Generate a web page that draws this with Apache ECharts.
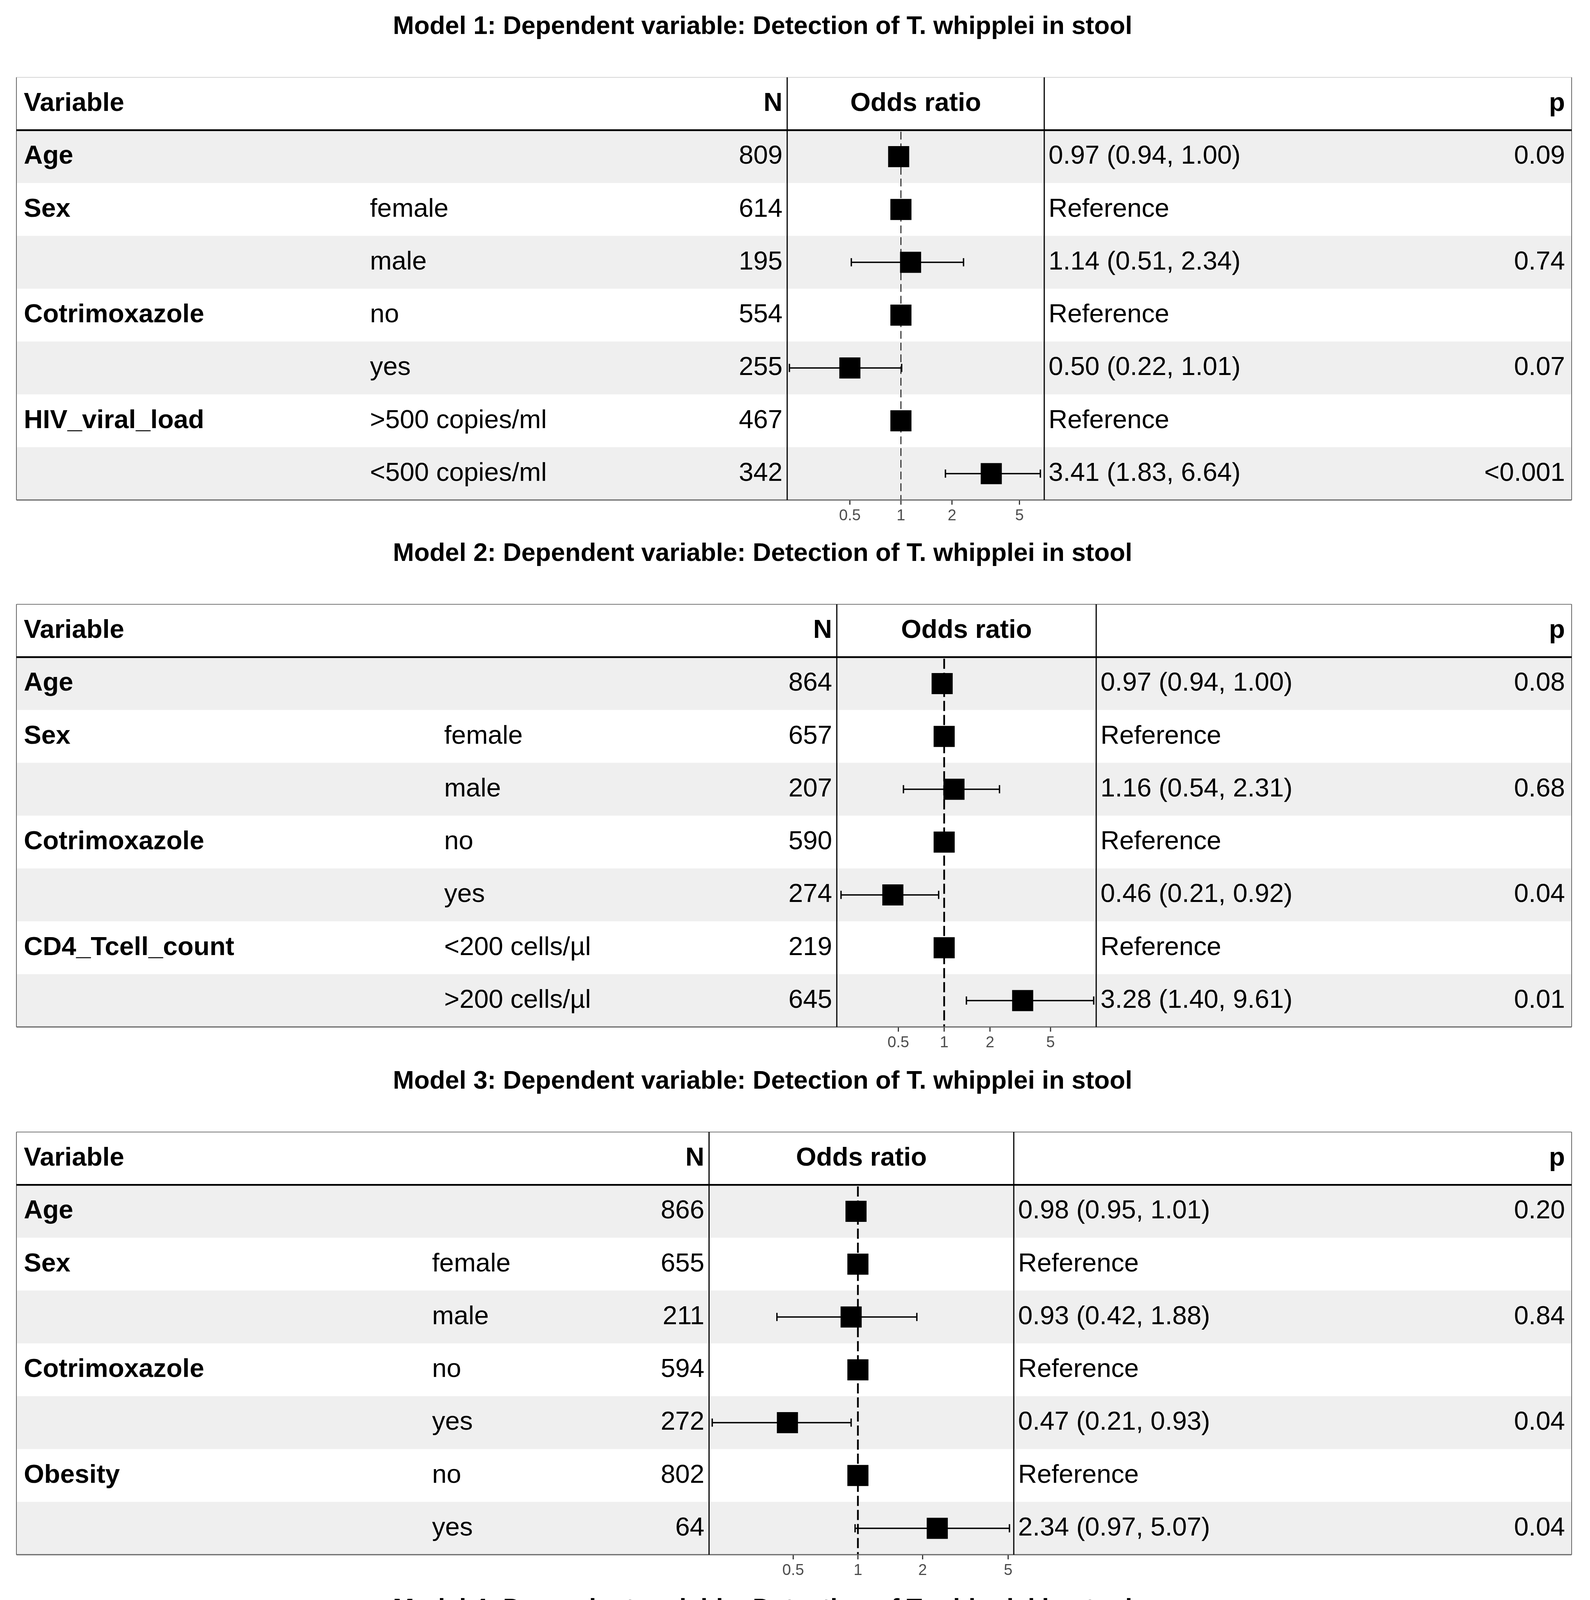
<!DOCTYPE html>
<html><head><meta charset="utf-8">
<script src="https://cdn.jsdelivr.net/npm/echarts@6/dist/echarts.min.js"></script>
<style>html,body{margin:0;padding:0;background:#fff}#c{width:4070px;height:5428px}#err{position:absolute;left:0;top:0;font:40px monospace;color:red;white-space:pre-wrap;width:4000px}</style>
</head><body><div id="c"></div><div id="err"></div>
<script>
// ---------------- DATA ----------------
const m1Title = "Model 1: Dependent variable: Detection of T. whipplei in stool";
const m1Variables = ["Age", "Sex", "", "Cotrimoxazole", "", "HIV_viral_load", ""];
const m1Levels = ["", "female", "male", "no", "yes", ">500 copies/ml", "<500 copies/ml"];
const m1N = [809, 614, 195, 554, 255, 467, 342];
const m1OR = [0.97, 1, 1.14, 1, 0.50, 1, 3.41];
const m1Lo = [0.94, null, 0.51, null, 0.22, null, 1.83];
const m1Hi = [1.00, null, 2.34, null, 1.01, null, 6.64];
const m1P = ["0.09", "", "0.74", "", "0.07", "", "<0.001"];
const m1Ticks = [0.5, 1, 2, 5];

const m2Title = "Model 2: Dependent variable: Detection of T. whipplei in stool";
const m2Variables = ["Age", "Sex", "", "Cotrimoxazole", "", "CD4_Tcell_count", ""];
const m2Levels = ["", "female", "male", "no", "yes", "<200 cells/µl", ">200 cells/µl"];
const m2N = [864, 657, 207, 590, 274, 219, 645];
const m2OR = [0.97, 1, 1.16, 1, 0.46, 1, 3.28];
const m2Lo = [0.94, null, 0.54, null, 0.21, null, 1.40];
const m2Hi = [1.00, null, 2.31, null, 0.92, null, 9.61];
const m2P = ["0.08", "", "0.68", "", "0.04", "", "0.01"];
const m2Ticks = [0.5, 1, 2, 5];

const m3Title = "Model 3: Dependent variable: Detection of T. whipplei in stool";
const m3Variables = ["Age", "Sex", "", "Cotrimoxazole", "", "Obesity", ""];
const m3Levels = ["", "female", "male", "no", "yes", "no", "yes"];
const m3N = [866, 655, 211, 594, 272, 802, 64];
const m3OR = [0.98, 1, 0.93, 1, 0.47, 1, 2.34];
const m3Lo = [0.95, null, 0.42, null, 0.21, null, 0.97];
const m3Hi = [1.01, null, 1.88, null, 0.93, null, 5.07];
const m3P = ["0.20", "", "0.84", "", "0.04", "", "0.04"];
const m3Ticks = [0.5, 1, 2, 5];

const m4Title = "Model 4: Dependent variable: Detection of T. whipplei in stool";
const m4Variables = ["Age", "Sex", "", "Cotrimoxazole", "", "ART", ""];
const m4Levels = ["", "female", "male", "no", "yes", "no", "yes"];
const m4N = [892, 676, 216, 612, 280, 465, 427];
const m4OR = [0.97, 1, 1.22, 1, 0.43, 1, 6.20];
const m4Lo = [0.94, null, 0.57, null, 0.19, null, 3.10];
const m4Hi = [1.00, null, 2.46, null, 0.86, null, 13.84];
const m4P = ["0.06", "", "0.59", "", "0.02", "", "<0.001"];
const m4Ticks = [0.2, 0.5, 1, 2, 5, 10];

const headerLabels = { variable: "Variable", n: "N", or: "Odds ratio", p: "p" };
const referenceLabel = "Reference";
const referenceValue = 1;

const models = [
  { title: m1Title, vars: m1Variables, levels: m1Levels, n: m1N, or: m1OR, lo: m1Lo, hi: m1Hi, p: m1P, ticks: m1Ticks },
  { title: m2Title, vars: m2Variables, levels: m2Levels, n: m2N, or: m2OR, lo: m2Lo, hi: m2Hi, p: m2P, ticks: m2Ticks },
  { title: m3Title, vars: m3Variables, levels: m3Levels, n: m3N, or: m3OR, lo: m3Lo, hi: m3Hi, p: m3P, ticks: m3Ticks },
  { title: m4Title, vars: m4Variables, levels: m4Levels, n: m4N, or: m4OR, lo: m4Lo, hi: m4Hi, p: m4P, ticks: m4Ticks }
];

// ---------------- LAYOUT ----------------
const rowH = 135.25;
const TL = 42, TR = 4023;
const VAR_X = 61, P_RIGHT = 4006;
const LAYOUT = [
  { top: 198, level: 947, pL: 2015, pR: 2673, min: 0.2135, max: 7.0, dashW: 2.2, dash: [20, 10], vW: 3, topColor: '#d6d6d6' },
  { top: 1547, level: 1137, pL: 2142, pR: 2806, min: 0.197, max: 9.98, dashW: 4.5, dash: [26, 10], vW: 3, topColor: '#777' },
  { top: 2898, level: 1106, pL: 1815, pR: 2595, min: 0.203, max: 5.31, dashW: 4.5, dash: [26, 10], vW: 3, topColor: '#777' },
  { top: 4249, level: 1040, pL: 1707, pR: 2439, min: 0.182, max: 14.45, dashW: 4.5, dash: [26, 10], vW: 2, topColor: '#777' }
];
const FF = "'Liberation Sans', Arial, sans-serif";
const BODY = "67px " + FF, BOLD = "bold 67px " + FF, TITLE = "bold 65px " + FF, TICK = "40px " + FF;

function estLabel(or, lo, hi) {
  if (lo == null) return referenceLabel;
  return or.toFixed(2) + " (" + lo.toFixed(2) + ", " + hi.toFixed(2) + ")";
}
function txt(text, x, y, font, align) {
  return { type: 'text', x: x, y: y, style: { text: text, font: font, fill: '#000', align: align, verticalAlign: 'middle', textAlign: align, textVerticalAlign: 'middle' } };
}

try {
const chart = echarts.init(document.getElementById('c'), null, { renderer: 'canvas', width: 4070, height: 5428 });
const grid = [], xAxis = [], yAxis = [], series = [], graphic = [];

models.forEach((m, k) => {
  const L = LAYOUT[k];
  const tg = 2 * k, fg = 2 * k + 1;
  const bottom = L.top + 8 * rowH;
  grid.push({ left: TL, top: L.top, width: TR - TL, height: 8 * rowH });
  grid.push({ left: L.pL, top: L.top + rowH, width: L.pR - L.pL, height: 7 * rowH });
  xAxis.push({ type: 'value', gridIndex: tg, min: TL, max: TR, show: false });
  yAxis.push({ type: 'value', gridIndex: tg, inverse: true, min: -0.5, max: 7.5, show: false });
  xAxis.push({ type: 'log', logBase: 10, gridIndex: fg, min: L.min, max: L.max, show: false, splitLine: { show: false } });
  yAxis.push({ type: 'value', gridIndex: fg, inverse: true, min: -0.5, max: 6.5, show: false });

  // Table: backgrounds and text cells (row 0 = header)
  series.push({
    type: 'custom', xAxisIndex: tg, yAxisIndex: tg, z: 1, silent: true, clip: false,
    data: [0, 1, 2, 3, 4, 5, 6, 7].map(i => [TL, i]),
    encode: { x: 0, y: 1 },
    renderItem: function (params, api) {
      const i = api.value(1);
      const p0 = api.coord([TL, i - 0.5]);
      const p1 = api.coord([TL, i + 0.5]);
      const yc = (p0[1] + p1[1]) / 2;
      const band = Math.abs(p1[1] - p0[1]);
      const ch = [];
      if (i % 2 === 1) {
        ch.push({ type: 'rect', shape: { x: TL, y: yc - band / 2, width: TR - TL, height: band }, style: { fill: '#efefef' } });
      }
      const nR = L.pL - 12, eX = L.pR + 11;
      if (i === 0) {
        ch.push(txt(headerLabels.variable, VAR_X, yc, BOLD, 'left'));
        ch.push(txt(headerLabels.n, nR, yc, BOLD, 'right'));
        ch.push(txt(headerLabels.or, (L.pL + L.pR) / 2, yc, BOLD, 'center'));
        ch.push(txt(headerLabels.p, P_RIGHT, yc, BOLD, 'right'));
      } else {
        const r = i - 1;
        if (m.vars[r]) ch.push(txt(m.vars[r], VAR_X, yc, BOLD, 'left'));
        if (m.levels[r]) ch.push(txt(m.levels[r], L.level, yc, BODY, 'left'));
        ch.push(txt(String(m.n[r]), nR, yc, BODY, 'right'));
        ch.push(txt(estLabel(m.or[r], m.lo[r], m.hi[r]), eX, yc, BODY, 'left'));
        if (m.p[r]) ch.push(txt(m.p[r], P_RIGHT, yc, BODY, 'right'));
      }
      return { type: 'group', children: ch };
    }
  });

  // Reference dashed line at OR = 1
  series.push({
    type: 'custom', xAxisIndex: fg, yAxisIndex: fg, z: 2, silent: true, clip: false,
    data: [[referenceValue, 0]],
    encode: { x: 0, y: 1 },
    renderItem: function (params, api) {
      const x = api.coord([api.value(0), 0])[0];
      const cs = params.coordSys;
      return { type: 'line', shape: { x1: x, y1: cs.y + 4, x2: x, y2: cs.y + cs.height }, style: { stroke: '#000', lineWidth: L.dashW, lineDash: L.dash } };
    }
  });

  // Error bars
  const ebData = [];
  m.lo.forEach((lo, i) => { if (lo != null) ebData.push([lo, m.hi[i], i]); });
  series.push({
    type: 'custom', xAxisIndex: fg, yAxisIndex: fg, z: 3, silent: true, clip: false,
    data: ebData,
    encode: { x: [0, 1], y: 2 },
    renderItem: function (params, api) {
      const i = api.value(2);
      const a = api.coord([api.value(0), i]);
      const b = api.coord([api.value(1), i]);
      const st = { stroke: '#000', lineWidth: 3.5 };
      const c = 10.5;
      return {
        type: 'group', children: [
          { type: 'line', shape: { x1: a[0], y1: a[1], x2: b[0], y2: b[1] }, style: st },
          { type: 'line', shape: { x1: a[0], y1: a[1] - c, x2: a[0], y2: a[1] + c }, style: st },
          { type: 'line', shape: { x1: b[0], y1: b[1] - c, x2: b[0], y2: b[1] + c }, style: st }
        ]
      };
    }
  });

  // Point estimates
  series.push({
    type: 'scatter', xAxisIndex: fg, yAxisIndex: fg, z: 4, silent: true,
    symbol: 'rect', symbolSize: 54,
    itemStyle: { color: '#000', opacity: 1 },
    data: m.or.map((v, i) => [v, i])
  });

  // Axis ticks and labels
  series.push({
    type: 'custom', xAxisIndex: fg, yAxisIndex: fg, z: 5, silent: true, clip: false,
    data: m.ticks.map(v => [v, 0]),
    encode: { x: 0, y: 1 },
    renderItem: function (params, api) {
      const v = api.value(0);
      const x = api.coord([v, 0])[0];
      const cs = params.coordSys;
      const yb = cs.y + cs.height;
      return {
        type: 'group', children: [
          { type: 'line', shape: { x1: x, y1: yb, x2: x, y2: yb + 12 }, style: { stroke: '#333', lineWidth: 3 } },
          { type: 'text', x: x, y: yb + 21, style: { text: String(v), font: TICK, fill: '#4d4d4d', align: 'center', verticalAlign: 'top', textAlign: 'center', textVerticalAlign: 'top' } }
        ]
      };
    }
  });

  // Title and frame
  graphic.push({ type: 'text', x: 1952, y: L.top - 129, z: 100, style: { text: m.title, font: TITLE, fill: '#000', align: 'center', verticalAlign: 'middle', textAlign: 'center', textVerticalAlign: 'middle' } });
  const ln = (x1, y1, x2, y2, color, w) => graphic.push({ type: 'line', z: 100, silent: true, shape: { x1, y1, x2, y2 }, style: { stroke: color, lineWidth: w } });
  ln(TL, L.top, TR, L.top, L.topColor, 2);
  ln(TL, bottom, TR, bottom, '#666', 3);
  ln(TL, L.top, TL, bottom, '#666', 2);
  ln(TR, L.top, TR, bottom, '#666', 2);
  ln(TL, L.top + rowH, TR, L.top + rowH, '#000', 4.5);
  ln(L.pL, L.top, L.pL, bottom, '#000', L.vW);
  ln(L.pR, L.top, L.pR, bottom, '#000', L.vW);
});

chart.setOption({
  animation: false,
  backgroundColor: '#fff',
  grid: grid, xAxis: xAxis, yAxis: yAxis, series: series,
  graphic: { elements: graphic }
});
} catch (e) {
  document.getElementById('err').textContent = String(e && e.stack || e);
}
</script>
</body></html>
